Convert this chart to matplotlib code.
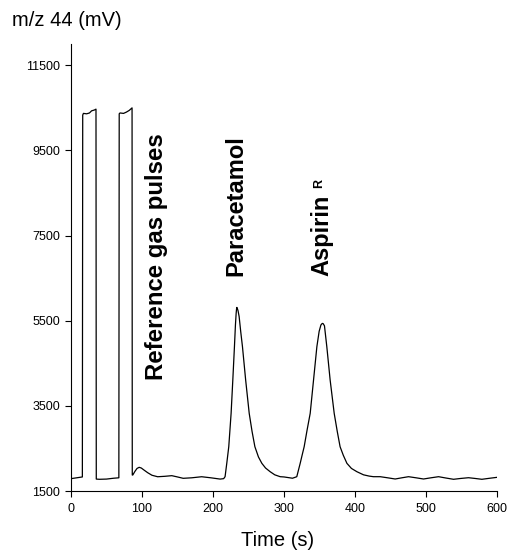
import numpy as np
import matplotlib
matplotlib.use('Agg')
import matplotlib.pyplot as plt

plt.rcParams['font.family'] = ['Liberation Sans', 'DejaVu Sans']

# chromatogram trace (time s, signal mV)
t_pulses = [0, 8, 16, 16.5, 17.5, 22, 26, 29, 33, 35.2, 35.6, 40, 50, 60, 67.4,
            67.9, 69, 74, 78, 82, 86, 86.3]
v_pulses = [1790, 1810, 1830, 10330, 10370, 10360, 10380, 10430, 10450, 10470, 1780,
            1775, 1780, 1800, 1810, 10360, 10380, 10370, 10400, 10440, 10500, 1875]

t_base1 = [87, 90, 93, 96, 99, 103, 108, 114, 122, 132, 142, 150, 158, 170, 184, 197, 210, 215]
v_base1 = [1875, 1960, 2030, 2056, 2040, 1990, 1930, 1870, 1835, 1845, 1860, 1830, 1798, 1810,
           1835, 1810, 1780, 1790]

t_para = [217, 219.4, 222.2, 225.5, 227.9, 230.2, 231.6, 232.6, 233.2, 233.6, 234.2, 235.2, 236.8,
          239, 241.5, 246, 251, 255, 259, 264, 268.8, 274, 280.5, 287, 294.6]
v_para = [1836, 2150, 2540, 3324, 4106, 4890, 5400, 5673, 5780, 5812, 5790, 5740, 5600,
          5250, 4890, 4106, 3324, 2900, 2540, 2300, 2150, 2040, 1953, 1880, 1836]

t_asp = [300, 306, 312, 318, 322.8, 325.5, 328.4, 332.5, 336.9, 341.6, 346.3, 349.5, 352, 353.5,
         354.2, 355.2, 357, 360.3, 365, 370.7, 375, 379, 383.5, 388.6, 395, 402.7, 412, 420, 426]
v_asp = [1830, 1815, 1800, 1836, 2150, 2340, 2540, 2930, 3324, 4106, 4890, 5250, 5400, 5430,
         5437, 5430, 5380, 4890, 4106, 3324, 2900, 2540, 2340, 2150, 2030, 1953, 1880, 1850, 1836]

t_base2 = [435.5, 446, 456.6, 466, 475.4, 486, 496.5, 507, 517.7, 528, 538.8, 549, 559.9, 569,
           578.7, 590, 600]
v_base2 = [1836, 1810, 1782, 1810, 1836, 1810, 1782, 1810, 1836, 1805, 1775, 1795, 1812, 1795,
           1775, 1800, 1821]

t = t_pulses + t_base1 + t_para + t_asp + t_base2
v = v_pulses + v_base1 + v_para + v_asp + v_base2

yticks = [1500, 3500, 5500, 7500, 9500, 11500]
xticks = [0, 100, 200, 300, 400, 500, 600]

fig = plt.figure(figsize=(5.11, 5.53), dpi=100)
ax = fig.add_axes([71/511, 62/553, 426/511, 447/553])

ax.plot(t, v, '-k', linewidth=0.9)

ax.set_xlim(0, 600)
ax.set_ylim(1500, 12000)
ax.set_xticks(xticks)
ax.set_yticks(yticks)
ax.tick_params(labelsize=9, length=4, width=0.8, direction='out', colors='black')
ax.tick_params(axis='y', pad=4)
ax.tick_params(axis='x', pad=5)
for s in ['top', 'right']:
    ax.spines[s].set_visible(False)
for s in ['left', 'bottom']:
    ax.spines[s].set_linewidth(0.8)

# peak labels
ax.text(120, 4100, 'Reference gas pulses', rotation=90, ha='center', va='bottom',
        fontsize=17.3, fontweight='bold')
ax.text(232.5, 6550, 'Paracetamol', rotation=90, ha='center', va='bottom',
        fontsize=17, fontweight='bold')
ax.text(353, 6550, 'Aspirin', rotation=90, ha='center', va='bottom',
        fontsize=17, fontweight='bold')
ax.text(349, 8620, 'R', rotation=90, ha='center', va='bottom',
        fontsize=9, fontweight='bold')

fig.text(12/511, 1 - 20/553, 'm/z 44 (mV)', ha='left', va='center', fontsize=14.5)
fig.text(278/511, 1 - 540/553, 'Time (s)', ha='center', va='center', fontsize=14.5)

plt.savefig('out.png', dpi=100)
